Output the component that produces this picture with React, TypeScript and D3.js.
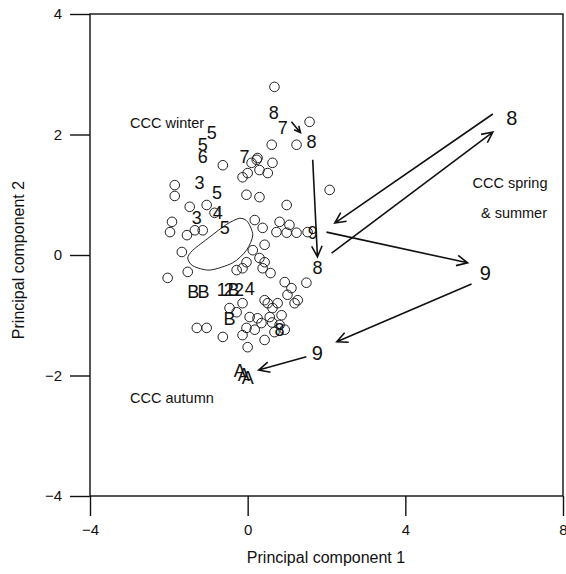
import React, { useRef, useEffect } from 'react';
import * as d3 from 'd3';

// sample scores on the first two principal components (open circles)
const pc1 = [0.68, 1.57, 0.61, 1.24, -0.63, 0.25, 0.10, 0.63, 0.30, 0.51, 0.0, -0.13, 2.08, -0.03, 0.30, 0.99,
  -1.85, -1.85, -1.47, -1.04, -1.92, -1.97, -1.54, -1.34, -1.14, -1.67, -0.84, 0.18, 0.38, 0.81, 1.06, 0.73,
  0.99, 1.24, 1.52, 0.43, 0.13, 0.30, 0.43, -0.03, -0.13, 0.38, -0.28, -1.52, -2.03, 0.94, 1.11, 1.49, 1.01,
  0.51, 0.76, 1.19, 0.63, -0.13, 0.05, 0.25, 0.56, 0.86, 0.81, 0.94, 0.68, -0.03, -0.13, 0.43, 0.0, -1.29,
  -1.04, -0.63, -0.46, -0.28, 0.18, 0.35, 0.43, 1.27, 0.23, 0.58, 0.62];
const pc2 = [2.79, 2.21, 1.83, 1.83, 1.49, 1.61, 1.53, 1.53, 1.41, 1.36, 1.36, 1.29, 1.08, 1.0, 0.96, 0.83,
  1.16, 0.98, 0.80, 0.83, 0.55, 0.38, 0.33, 0.41, 0.41, 0.05, 0.70, 0.58, 0.45, 0.55, 0.50, 0.38,
  0.37, 0.37, 0.38, 0.17, 0.08, -0.05, -0.12, -0.12, -0.22, -0.22, -0.25, -0.28, -0.38, -0.45, -0.55, -0.46, -0.66,
  -0.80, -0.80, -0.80, -0.88, -0.80, -1.03, -1.05, -1.03, -1.00, -1.16, -1.24, -1.28, -1.21, -1.33, -1.41, -1.53, -1.21,
  -1.21, -1.36, -0.88, -0.95, -1.24, -1.13, -0.75, -0.75, 1.58, -0.30, -1.12];

// month / group labels
const labelText = ['8', '7', '8', '5', '5', '6', '3', '5', '7', '3', '4', '5', '9', '8', '8', '9', '9',
  'A', 'A', 'A', 'B', '8', 'B', 'B', '1', '2', 'B', '2', '4'];
const labelX = [0.66, 0.89, 1.62, -0.91, -1.14, -1.14, -1.22, -0.78, -0.08, -1.29, -0.76, -0.58, 1.65, 1.77, 6.70, 6.03, 1.77,
  -0.20, -0.10, 0.0, -0.46, 0.81, -1.38, -1.12, -0.66, -0.48, -0.36, -0.22, 0.05];
const labelY = [2.37, 2.12, 1.88, 2.04, 1.83, 1.63, 1.20, 1.03, 1.63, 0.63, 0.71, 0.45, 0.38, -0.20, 2.27, -0.30, -1.63,
  -1.91, -1.98, -2.03, -1.05, -1.24, -0.60, -0.60, -0.58, -0.58, -0.58, -0.57, -0.55];
const bigLabels = [14, 15, 16];

// seasonal trajectory arrows (from -> to)
const arrowX0 = [1.11, 1.65, 6.22, 2.13, 2.00, 5.68, 1.49];
const arrowY0 = [2.21, 1.58, 2.34, 0.03, 0.38, -0.48, -1.69];
const arrowX1 = [1.34, 1.77, 2.21, 6.22, 5.58, 2.26, 0.28];
const arrowY1 = [2.03, -0.03, 0.53, 2.04, -0.13, -1.44, -1.91];

// closed contour around the winter/spring core
const contourX = [-1.39, -1.52, -1.39, -0.96, -0.38, -0.03, 0.13, 0.0, -0.20, -0.53, -0.96];
const contourY = [0.08, -0.05, -0.18, -0.25, -0.13, 0.08, 0.33, 0.55, 0.61, 0.51, 0.30];

const xTicks = [-4, 0, 4, 8];
const yTicks = [-4, -2, 0, 2, 4];

const W = 566;
const H = 574;
const font = 'Liberation Sans, Arial, Helvetica, sans-serif';

const App = () => {
  const svgRef = useRef<SVGSVGElement>(null);

  useEffect(() => {
    const svg = d3.select(svgRef.current);
    svg.selectAll('*').remove();

    const x = d3.scaleLinear().domain([-4, 8]).range([90, 563]);
    const y = d3.scaleLinear().domain([-4, 4]).range([496, 14]);

    const g = svg.append('g');

    // frame + axes
    g.append('rect')
      .attr('x', x(-4)).attr('y', y(4))
      .attr('width', x(8) - x(-4)).attr('height', y(-4) - y(4))
      .attr('fill', 'none').attr('stroke', '#111').attr('stroke-width', 1.4);

    const fmt = (d: d3.NumberValue) => d3.format('')(d as number).replace('-', '\u2013');

    const xAxis = g.append('g')
      .attr('transform', `translate(0,${y(-4)})`)
      .call(d3.axisBottom(x).tickValues(xTicks).tickSize(20).tickPadding(8).tickFormat(fmt));
    xAxis.select('.domain').remove();
    xAxis.selectAll('line').attr('stroke', '#111').attr('stroke-width', 1.4);
    xAxis.selectAll('text').attr('font-family', font).attr('font-size', 15).attr('fill', '#111');

    const yAxis = g.append('g')
      .attr('transform', `translate(${x(-4)},0)`)
      .call(d3.axisLeft(y).tickValues(yTicks).tickSize(20).tickPadding(8).tickFormat(fmt));
    yAxis.select('.domain').remove();
    yAxis.selectAll('line').attr('stroke', '#111').attr('stroke-width', 1.4);
    yAxis.selectAll('text').attr('font-family', font).attr('font-size', 15).attr('fill', '#111');

    g.append('text')
      .attr('x', 326).attr('y', 563)
      .attr('text-anchor', 'middle')
      .attr('font-family', font).attr('font-size', 16).attr('fill', '#111')
      .text('Principal component 1');
    g.append('text')
      .attr('transform', `translate(24,${(y(4) + y(-4)) / 2 + 5}) rotate(-90)`)
      .attr('text-anchor', 'middle')
      .attr('font-family', font).attr('font-size', 16).attr('fill', '#111')
      .text('Principal component 2');

    // contour
    const pts = contourX.map((v, i) => [x(v), y(contourY[i])] as [number, number]);
    g.append('path')
      .attr('d', d3.line().curve(d3.curveCardinalClosed.tension(0.2))(pts))
      .attr('fill', 'none').attr('stroke', '#222').attr('stroke-width', 1);

    // circles
    g.selectAll('circle.pt')
      .data(pc1.map((v, i) => ({ a: v, b: pc2[i] })))
      .join('circle')
      .attr('class', 'pt')
      .attr('cx', d => x(d.a))
      .attr('cy', d => y(d.b))
      .attr('r', 4.8)
      .attr('fill', 'none')
      .attr('stroke', '#222')
      .attr('stroke-width', 1);

    // labels
    g.selectAll('text.lab')
      .data(labelText.map((t, i) => ({ t, a: labelX[i], b: labelY[i], big: bigLabels.includes(i) })))
      .join('text')
      .attr('class', 'lab')
      .attr('x', d => x(d.a))
      .attr('y', d => y(d.b))
      .attr('dy', '0.36em')
      .attr('text-anchor', 'middle')
      .attr('font-family', font)
      .attr('font-size', d => (d.big ? 20 : 18))
      .attr('fill', '#111')
      .text(d => d.t);

    // arrows
    arrowX0.forEach((v, i) => {
      const x0 = x(v), y0 = y(arrowY0[i]);
      const x1 = x(arrowX1[i]), y1 = y(arrowY1[i]);
      const ang = Math.atan2(y1 - y0, x1 - x0);
      const len = i === 0 ? 7 : 12;
      const spread = 0.45;
      const p = d3.path();
      p.moveTo(x0, y0);
      p.lineTo(x1, y1);
      p.moveTo(x1 - len * Math.cos(ang - spread), y1 - len * Math.sin(ang - spread));
      p.lineTo(x1, y1);
      p.lineTo(x1 - len * Math.cos(ang + spread), y1 - len * Math.sin(ang + spread));
      g.append('path')
        .attr('d', p.toString())
        .attr('fill', 'none').attr('stroke', '#111').attr('stroke-width', 1.6);
    });

    // season annotations
    const notes = [
      { t: 'CCC winter', px: 130, py: 128, anchor: 'start' },
      { t: 'CCC spring', px: 510, py: 188, anchor: 'middle' },
      { t: '& summer', px: 514, py: 218, anchor: 'middle' },
      { t: 'CCC autumn', px: 130, py: 403, anchor: 'start' },
    ];
    g.selectAll('text.note')
      .data(notes)
      .join('text')
      .attr('class', 'note')
      .attr('x', d => d.px)
      .attr('y', d => d.py)
      .attr('text-anchor', d => d.anchor)
      .attr('font-family', font)
      .attr('font-size', 14.5)
      .attr('fill', '#111')
      .text(d => d.t);
  }, []);

  return (
    <svg
      ref={svgRef}
      width={W}
      height={H}
      style={{ position: 'absolute', left: 0, top: 0, background: '#fff' }}
    />
  );
};

export default App;
